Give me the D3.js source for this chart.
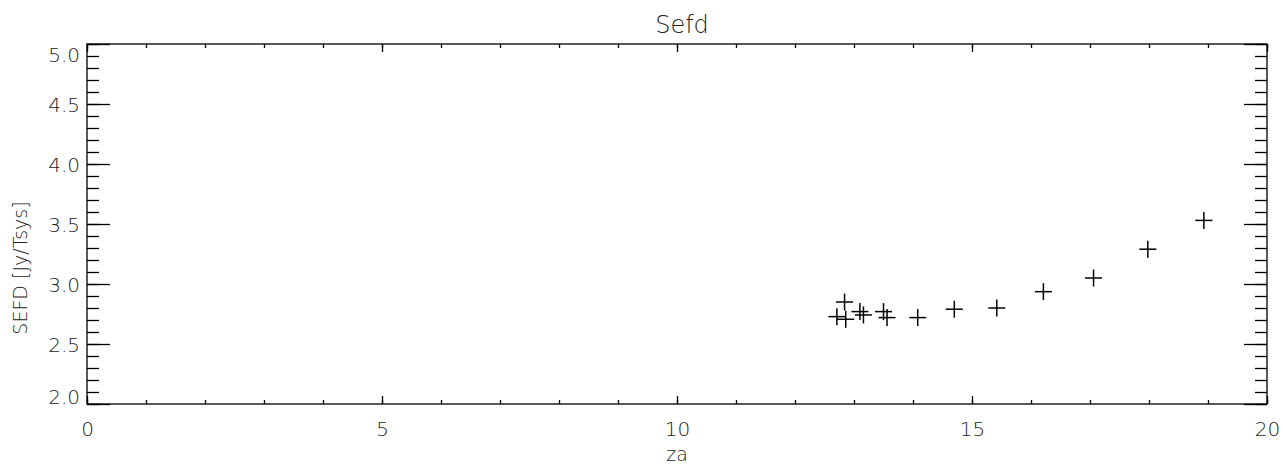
<!DOCTYPE html>
<html>
<head>
<meta charset="utf-8">
<script src="https://cdn.jsdelivr.net/npm/d3@7"></script>
<style>
  body { margin: 0; background: #fff; }
  svg text { font-family: "DejaVu Sans", sans-serif; font-weight: 200; fill: #222; }
  .axis path, .axis line { stroke: #000; stroke-width: 1.3; }
  .axis .domain { stroke: #000; }
</style>
</head>
<body>
<svg id="chart" width="1283" height="466"></svg>
<script>
// data
const za   = [12.71, 12.86, 12.84, 13.10, 13.16, 13.50, 13.56, 14.08, 14.70, 15.42, 16.21, 17.06, 17.98, 18.93];
const sefd = [2.728, 2.706, 2.850, 2.770, 2.742, 2.770, 2.720, 2.720, 2.790, 2.800, 2.936, 3.050, 3.290, 3.530];
const xMajor = [0, 5, 10, 15, 20];
const xMinor = d3.range(0, 21, 1);
const yMajor = [2.0, 2.5, 3.0, 3.5, 4.0, 4.5, 5.0];
const yMinor = d3.range(20, 51, 1).map(d => d / 10);

const svg = d3.select('#chart');
const margin = {top: 44, right: 16, bottom: 62, left: 87};
const W = 1283, H = 466;

const x = d3.scaleLinear().domain([0, 20]).range([margin.left, W - margin.right]);
const y = d3.scaleLinear().domain([2, 5]).range([H - margin.bottom, margin.top]);

// frame
svg.append('rect')
  .attr('x', x(0)).attr('y', y(5))
  .attr('width', x(20) - x(0)).attr('height', y(2) - y(5))
  .attr('fill', 'none').attr('stroke', '#000').attr('stroke-width', 1.3);

function tickLines(g) {
  g.select('.domain').remove();
  g.selectAll('line').attr('stroke', '#000').attr('stroke-width', 1.3);
}

// bottom axis
svg.append('g').attr('class', 'axis')
  .attr('transform', `translate(0,${y(2)})`)
  .call(d3.axisBottom(x).tickValues(xMinor).tickSize(-4).tickFormat(''))
  .call(tickLines);
svg.append('g').attr('class', 'axis xlab')
  .attr('transform', `translate(0,${y(2)})`)
  .call(d3.axisBottom(x).tickValues(xMajor).tickSize(-8).tickPadding(18).tickFormat(d3.format('d')))
  .call(tickLines)
  .selectAll('text').attr('font-size', 20);

// top axis
svg.append('g').attr('class', 'axis')
  .attr('transform', `translate(0,${y(5)})`)
  .call(d3.axisTop(x).tickValues(xMinor).tickSize(-4).tickFormat(''))
  .call(tickLines);
svg.append('g').attr('class', 'axis')
  .attr('transform', `translate(0,${y(5)})`)
  .call(d3.axisTop(x).tickValues(xMajor).tickSize(-8).tickFormat(''))
  .call(tickLines);

// left axis
svg.append('g').attr('class', 'axis')
  .attr('transform', `translate(${x(0)},0)`)
  .call(d3.axisLeft(y).tickValues(yMinor).tickSize(-12).tickFormat(''))
  .call(tickLines);
const yl = svg.append('g').attr('class', 'axis')
  .attr('transform', `translate(${x(0)},0)`)
  .call(d3.axisLeft(y).tickValues(yMajor).tickSize(-23).tickPadding(7).tickFormat(d3.format('.1f')))
  .call(tickLines);
yl.selectAll('text').attr('font-size', 20)
  .attr('dy', d => d === 5 ? '0.85em' : d === 2 ? '-0.05em' : '0.38em');

// right axis
svg.append('g').attr('class', 'axis')
  .attr('transform', `translate(${x(20)},0)`)
  .call(d3.axisRight(y).tickValues(yMinor).tickSize(-12).tickFormat(''))
  .call(tickLines);
svg.append('g').attr('class', 'axis')
  .attr('transform', `translate(${x(20)},0)`)
  .call(d3.axisRight(y).tickValues(yMajor).tickSize(-23).tickFormat(''))
  .call(tickLines);

// crosses
const s = 8.5;
const pts = svg.append('g').selectAll('g').data(za.map((d, i) => [d, sefd[i]]))
  .enter().append('g')
  .attr('transform', d => `translate(${x(d[0])},${y(d[1])})`);
pts.append('line').attr('x1', -s).attr('x2', s).attr('stroke', '#000').attr('stroke-width', 1.5);
pts.append('line').attr('y1', -s).attr('y2', s).attr('stroke', '#000').attr('stroke-width', 1.5);

// titles
svg.append('text').attr('x', (x(0) + x(20)) / 2 + 5).attr('y', 33)
  .attr('text-anchor', 'middle').attr('font-size', 24).text('Sefd');
svg.append('text').attr('x', (x(0) + x(20)) / 2).attr('y', 461)
  .attr('text-anchor', 'middle').attr('font-size', 19).text('za');
svg.append('text')
  .attr('transform', 'translate(27,268) rotate(-90)')
  .attr('text-anchor', 'middle').attr('font-size', 19).text('SEFD [Jy/Tsys]');
</script>
</body>
</html>
